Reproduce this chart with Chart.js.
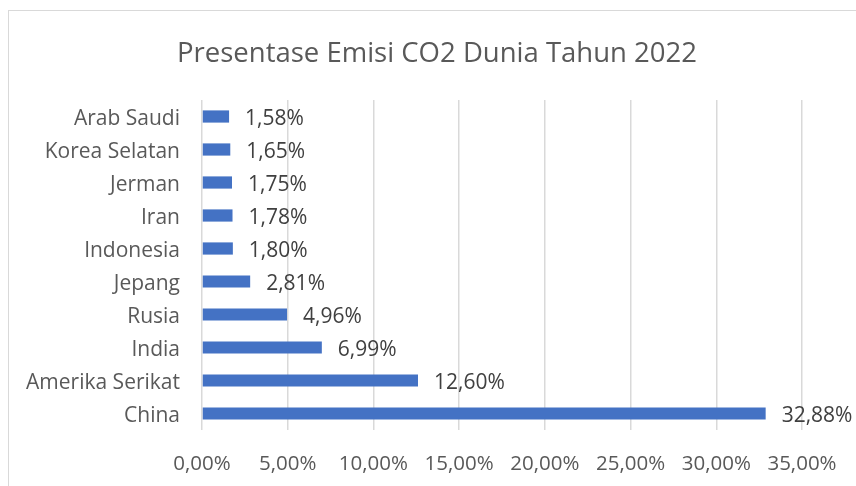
<!DOCTYPE html>
<html>
<head>
<meta charset="utf-8">
<script src="https://cdn.jsdelivr.net/npm/chart.js@4/dist/chart.umd.min.js"></script>
<style>
    html, body { margin: 0; background: #fff; overflow: hidden; }
    #page { position: relative; width: 856px; height: 486px; overflow: hidden; }
    #frame { position: absolute; left: 8px; top: 10px; width: 870px; height: 500px; border: 1px solid #d9d9d9; }
    #box { position: absolute; left: 0; top: 0; }
</style>
</head>
<body>
<div id="page">
<div id="frame"></div>
<div id="box"><canvas id="myChart" width="874" height="486"></canvas></div>
</div>
<script>
const countries = ['China', 'Amerika Serikat', 'India', 'Rusia', 'Jepang', 'Indonesia', 'Iran', 'Jerman', 'Korea Selatan', 'Arab Saudi'];
const emissions = [32.88, 12.60, 6.99, 4.96, 2.81, 1.80, 1.78, 1.75, 1.65, 1.58];
const tickValues = [0, 5, 10, 15, 20, 25, 30, 35];

const fontName = '"Open Sans", Lato, sans-serif';

function formatPercent(v) {
    return v.toFixed(2).replace('.', ',') + '%';
}

// draws the value labels next to each bar
const valueLabels = {
    id: 'valueLabels',
    afterDatasetsDraw(chart) {
        const ctx = chart.ctx;
        const meta = chart.getDatasetMeta(0);
        ctx.save();
        ctx.font = '21px ' + fontName;
        ctx.fillStyle = '#404040';
        ctx.textBaseline = 'middle';
        ctx.textAlign = 'left';
        meta.data.forEach((bar, i) => {
            ctx.fillText(formatPercent(emissions[i]), bar.x + 16, bar.y + 3);
        });
        ctx.restore();
    }
};

const ctx = document.getElementById('myChart').getContext('2d');
new Chart(ctx, {
    type: 'bar',
    data: {
        labels: countries,
        datasets: [{
            data: emissions,
            backgroundColor: '#4472C4',
            barPercentage: 0.37,
            categoryPercentage: 1
        }]
    },
    options: {
        indexAxis: 'y',
        responsive: false,
        animation: false,
        layout: { padding: 0 },
        plugins: {
            legend: { display: false },
            tooltip: { enabled: false },
            title: {
                display: true,
                text: 'Presentase Emisi CO2 Dunia Tahun 2022',
                color: '#595959',
                font: { family: fontName, size: 27.5, weight: 'normal' },
                padding: { top: 38, bottom: 29 }
            }
        },
        scales: {
            x: {
                min: 0,
                max: 35,
                afterBuildTicks(scale) {
                    scale.ticks = tickValues.map(v => ({ value: v }));
                },
                afterFit(scale) {
                    scale.height = 56;
                    scale.paddingRight = 72;
                },
                grid: { color: '#d9d9d9', lineWidth: 1.5, drawTicks: false },
                border: { display: false },
                ticks: {
                    color: '#595959',
                    padding: 22,
                    maxRotation: 0,
                    font: { family: fontName, size: 20.5 },
                    callback: v => formatPercent(v)
                }
            },
            y: {
                reverse: true,
                afterFit(scale) { scale.width = 202; },
                grid: { display: false, drawTicks: false },
                border: { display: false },
                ticks: {
                    color: '#595959',
                    padding: 22,
                    labelOffset: 3,
                    font: { family: fontName, size: 21 }
                }
            }
        }
    },
    plugins: [valueLabels]
});
</script>
</body>
</html>
